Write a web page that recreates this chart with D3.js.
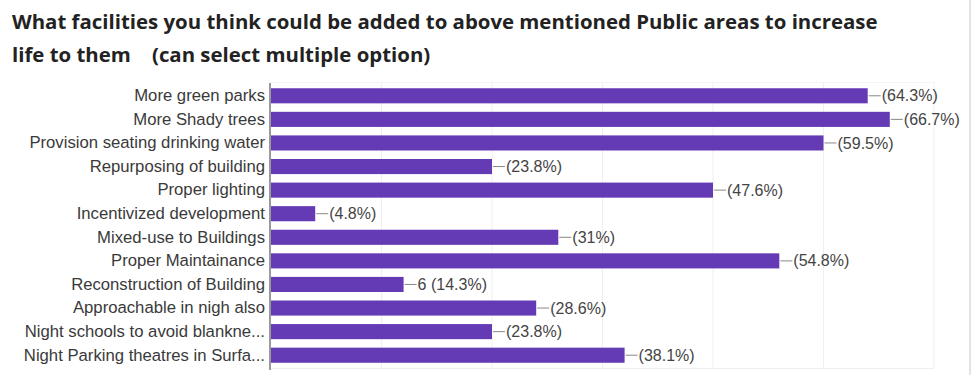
<!DOCTYPE html>
<html>
<head>
<meta charset="utf-8">
<script src="https://cdn.jsdelivr.net/npm/d3@7"></script>
<style>
  body { margin: 0; background: #fff; }
  svg { display: block; }
</style>
</head>
<body>
<svg width="977" height="375"></svg>
<script>
const categories = [
  "More green parks",
  "More Shady trees",
  "Provision seating drinking water",
  "Repurposing of building",
  "Proper lighting",
  "Incentivized development",
  "Mixed-use to Buildings",
  "Proper Maintainance",
  "Reconstruction of Building",
  "Approachable in nigh also",
  "Night schools to avoid blankne...",
  "Night Parking theatres in Surfa..."
]
const counts = [27, 28, 25, 10, 20, 2, 13, 23, 6, 12, 10, 16]
const valueLabels = [
  "(64.3%)", "(66.7%)", "(59.5%)", "(23.8%)", "(47.6%)", "(4.8%)",
  "(31%)", "(54.8%)", "6 (14.3%)", "(28.6%)", "(23.8%)", "(38.1%)"
]
const gridTicks = [0, 5, 10, 15, 20, 25, 30]

const svg = d3.select("svg")
const labelFont = "Arial, 'Liberation Sans', sans-serif"

// title, two lines
const title = svg.append("text")
  .attr("font-family", "'Open Sans', Roboto, sans-serif")
  .attr("font-weight", "bold")
  .attr("font-size", 20.4)
  .attr("fill", "#222")
title.append("tspan").attr("x", 12).attr("y", 29)
  .text("What facilities you think could be added to above mentioned Public areas to increase")
title.append("tspan").attr("x", 12).attr("y", 62)
  .text("life to them\u00a0\u00a0\u00a0\u00a0(can select multiple option)")

const x = d3.scaleLinear().domain([0, 30]).range([271, 934])
const y = d3.scaleBand().domain(categories).range([84, 367]).paddingInner(0.36).paddingOuter(0.18)

// faint frame + grid
svg.append("line")
  .attr("x1", 970).attr("x2", 970).attr("y1", 0).attr("y2", 375)
  .attr("stroke", "#e4e4e4").attr("stroke-width", 2)

svg.append("g")
  .selectAll("line")
  .data(gridTicks.slice(1))
  .join("line")
  .attr("x1", d => x(d)).attr("x2", d => x(d))
  .attr("y1", 82).attr("y2", 368)
  .attr("stroke", "#efefef")

svg.append("line")
  .attr("x1", x(0)).attr("x2", x(30)).attr("y1", 368.5).attr("y2", 368.5)
  .attr("stroke", "#efefef")
svg.append("line")
  .attr("x1", x(0)).attr("x2", x(30)).attr("y1", 82.5).attr("y2", 82.5)
  .attr("stroke", "#f4f4f4")

// bars
svg.append("g")
  .selectAll("rect")
  .data(categories)
  .join("rect")
  .attr("x", x(0))
  .attr("y", d => y(d))
  .attr("width", (d, i) => x(counts[i]) - x(0))
  .attr("height", y.bandwidth())
  .attr("fill", "#653ab5")

// y axis
const yAxis = d3.axisLeft(y).tickSize(0).tickPadding(5)
const ga = svg.append("g")
  .attr("transform", `translate(${x(0) - 1},0)`)
  .call(yAxis)
ga.select(".domain").attr("stroke", "#9a9a9a").attr("stroke-width", 2)
  .attr("d", "M0,83V370")
ga.selectAll("text")
  .attr("font-family", labelFont)
  .attr("font-size", 16.7)
  .attr("fill", "#3a3a3a")

// value labels with leader lines
const lab = svg.append("g")
  .selectAll("g")
  .data(categories)
  .join("g")
  .attr("transform", (d, i) => `translate(${x(counts[i])},${y(d) + y.bandwidth() / 2})`)

lab.append("line")
  .attr("x1", 1).attr("x2", 13).attr("y1", 0).attr("y2", 0)
  .attr("stroke", "#888")

lab.append("text")
  .attr("x", 14)
  .attr("dy", "0.35em")
  .attr("font-family", labelFont)
  .attr("font-size", 16)
  .attr("fill", "#444")
  .text((d, i) => valueLabels[i])
</script>
</body>
</html>
